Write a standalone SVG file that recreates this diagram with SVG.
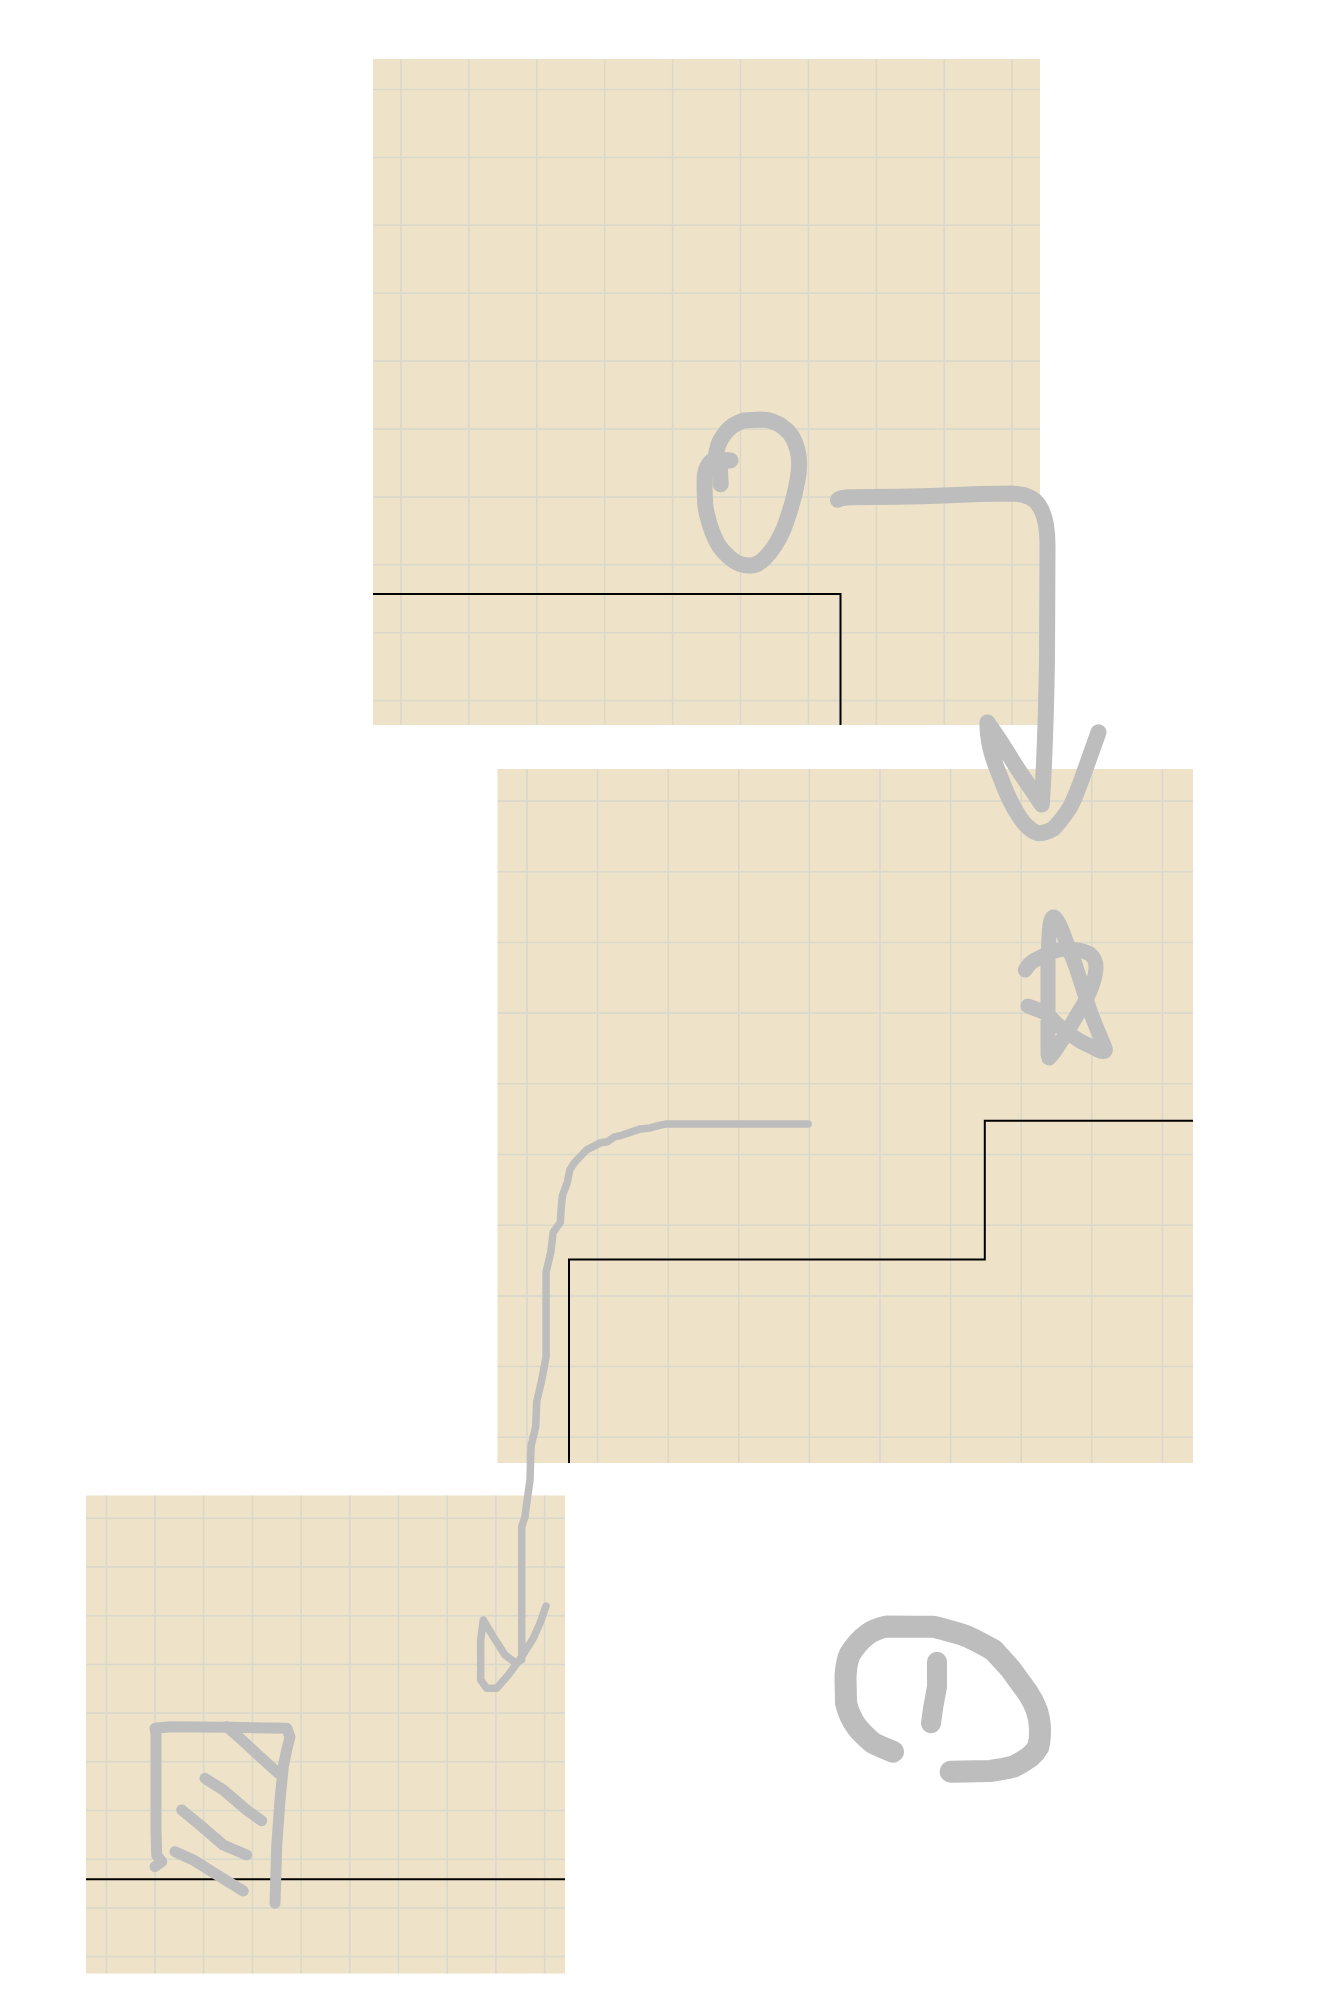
<svg xmlns="http://www.w3.org/2000/svg" width="1328" height="2000" viewBox="0 0 1328 2000">
<style>
.panel{fill:#EEE3C8}
.grid{stroke:#D9D8CB;stroke-width:1.5;fill:none}
.edge{stroke:#000;stroke-width:2;fill:none}
.ink{stroke:#BDBDBD;fill:none;stroke-linecap:round;stroke-linejoin:round}
</style>
<rect width="1328" height="2000" fill="#fff"/>
<g id="panel1">
<rect class="panel" x="373" y="59" width="667" height="666"/>
<path class="grid" d="M401 59V725M468.9 59V725M536.8 59V725M604.7 59V725M672.6 59V725M740.5 59V725M808.4 59V725M876.3 59V725M944.2 59V725M1012.1 59V725M373 89.5H1040M373 157.4H1040M373 225.3H1040M373 293.2H1040M373 361.1H1040M373 429H1040M373 496.9H1040M373 564.8H1040M373 632.7H1040M373 700.6H1040"/>
<path class="edge" d="M373 594H840.5V725"/>
</g>
<g id="panel2">
<rect class="panel" x="497.5" y="769" width="695.5" height="694"/>
<path class="grid" d="M527 769V1463M597.6 769V1463M668.2 769V1463M738.8 769V1463M809.4 769V1463M880 769V1463M950.6 769V1463M1021.2 769V1463M1091.8 769V1463M1162.4 769V1463M497.5 801H1193M497.5 871.7H1193M497.5 942.4H1193M497.5 1013.1H1193M497.5 1083.8H1193M497.5 1154.5H1193M497.5 1225.2H1193M497.5 1295.9H1193M497.5 1366.6H1193M497.5 1437.3H1193"/>
<path class="edge" d="M569 1463V1259.5H984.8V1120.8H1193"/>
</g>
<g id="panel3">
<rect class="panel" x="86" y="1495.5" width="479" height="478"/>
<path class="grid" d="M106.3 1495.5V1973.5M155 1495.5V1973.5M203.7 1495.5V1973.5M252.4 1495.5V1973.5M301.1 1495.5V1973.5M349.8 1495.5V1973.5M398.5 1495.5V1973.5M447.2 1495.5V1973.5M495.9 1495.5V1973.5M544.6 1495.5V1973.5M86 1518.3H565M86 1567H565M86 1615.7H565M86 1664.4H565M86 1713.1H565M86 1761.8H565M86 1810.5H565M86 1859.2H565M86 1907.9H565M86 1956.6H565"/>
<path class="edge" d="M86 1879.3H565"/>
</g>
<g id="node-o">
<path class="ink" stroke-width="16" d="M730.5 460.5L719.4 459.6L720.7 484.2"/>
<path class="ink" stroke-width="16" d="M714.9 459.6C708 462 704.6 470 704.6 480C704.6 495 705 505 706 510C710 528 716 545 725 553C733 562 742 566 750.6 565.5C756 565.5 760 563 765 558C772 551 779 540 784 528C790 512 795 495 797.5 480C799.5 470 799.5 458 797.5 450C795 440 790 432 784 428C777 422 770 419.5 760 419.5L744 420.4C736 423 730 427 726 432C721 438 718 444 717 450L714.9 459.6"/>
</g>
<g id="node-star">
<path class="ink" stroke-width="15" d="M1025.3 970.1C1028 965 1032 961 1037 959C1048 953 1057 949 1066 949C1078 949 1085 951 1090 954C1095 958 1096 962 1096 967C1096 975 1094 980 1092 986C1089 995 1085 1002 1080 1010C1074 1020 1068 1031 1062 1040C1056 1050 1052 1056 1049 1058L1048 1054L1048 958.7C1048.5 945 1049 932 1050 925C1051 919 1052 917 1054 917C1057 919 1059 923 1061 928C1066 940 1070 952 1075 964C1080 979 1085 995 1089 1008C1094 1022 1099 1034 1103 1043C1105 1048 1106 1050 1105 1051C1103 1052 1100 1051 1098 1050C1092 1047 1086 1044 1080 1041C1074 1037 1068 1033 1063 1029C1058 1025 1053 1021 1047 1014C1040 1010 1033 1008 1028 1006"/>
</g>
<g id="node-doc">
<path class="ink" stroke-width="11" d="M155 1866.7L161.7 1861.7L156.7 1855L156 1830L156 1733.3L155 1728.3L170 1726.7L226.7 1727.3L286.7 1728.3L290 1736.7L286.7 1750L283.3 1766.7L280 1800L276.7 1846.7L275 1903.3"/>
<path class="ink" stroke-width="11" d="M226.7 1726.7L240 1738.3L260 1756.7L278.3 1773.3"/>
<path class="ink" stroke-width="11" d="M205 1778.3L223.3 1790L246.7 1810L261.7 1820.7"/>
<path class="ink" stroke-width="11" d="M181.7 1810L200 1825L223.3 1845L246.7 1855"/>
<path class="ink" stroke-width="11" d="M175 1851.7L193.3 1860L220 1876.7L243.3 1891"/>
</g>
<g id="node-alert">
<path class="ink" stroke-width="22" d="M893 1751.7C886 1749 879 1746 873 1743C866 1737 861 1732 856.7 1726.7C851 1719 848 1711 846 1703L845.5 1676.7C846 1668 847 1660 850 1654C855 1646 860 1640 866.7 1635C872 1631 879 1628 886.7 1626.5L916.7 1626.7L933.3 1626.7C944 1629 953 1632 963.3 1635C974 1639 984 1645 993.3 1650L1010 1668.3L1028 1693C1032 1699 1034.5 1704 1036.7 1710C1039 1717 1040 1724 1040 1730C1040 1736 1039.5 1742 1038.3 1746.7C1036 1751 1033 1754 1030 1756.7C1024 1761 1019 1764 1013.3 1766.7C1005 1769 998 1770 990 1771L950.7 1771.7"/>
<path class="ink" stroke-width="20" d="M937 1661.7L937 1686.7L933.3 1706.7L931 1723.3"/>
</g>
<g id="connectors">
<path class="ink" stroke-width="16" d="M838 499.8C842 497 850 497 870 497C900 497 940 496 980 494L1011.8 493.5C1025 494 1034 498 1038.6 505C1045 514 1047.5 528 1047.5 545C1047.5 580 1047.5 620 1047 660C1046 720 1044 770 1041.8 804.5L1018.2 769.7L999.4 739.8L987.5 722.4C987 735 991 755 999.4 774.6C1004 787 1008 797 1013.5 807C1018 815 1022 822 1027.7 826.9C1031 830 1035 833 1039.5 833.3C1045 833 1049 831 1053.7 828.4C1059 823 1065 815 1070.2 807C1076 796 1080 784 1084.3 772.1L1098.5 732.3"/>
<path class="ink" stroke-width="7.5" d="M808.1 1123.9L666.5 1123.9L659.4 1125.4L650 1127.9L640.5 1128.9L621.6 1135.3L614.6 1136.8L607.5 1141.8L600.4 1142.8L586.2 1150.2L574.4 1162.7L569.7 1170.1L567.3 1182.6L562.6 1195L561.2 1207.5L560.3 1222.4L553.2 1232.3L550.8 1252.2L546.1 1272.1L546.1 1356.7L541.4 1381.6L536.7 1401.5L535.7 1426.4L531 1446.3L530 1480L526.7 1503.3L525 1516.7L521.7 1526.7L521.7 1660L515 1662.5L505 1655L493.3 1636.7L483.3 1620L480.7 1640L480.7 1680L486.7 1688.3L496.7 1688.3L508.3 1675L521.7 1656.7L533.3 1638.3L540 1623.3L546 1606"/>
</g>
</svg>
